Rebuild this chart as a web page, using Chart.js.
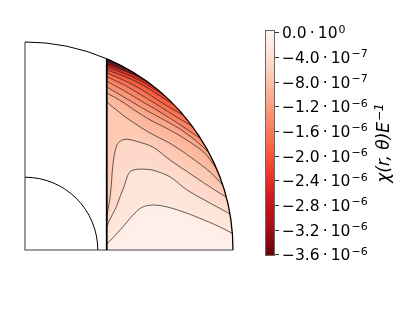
<!DOCTYPE html>
<html>
<head>
<meta charset="utf-8">
<script src="https://cdn.jsdelivr.net/npm/chart.js@4"></script>
<style>
  html, body { margin: 0; padding: 0; background: #fff; }
  #wrap { width: 415px; height: 311px; }
</style>
</head>
<body>
<div id="wrap"><canvas id="chiChart"></canvas></div>
<script>
// section geometry, in units of the outer radius
const innerRadius = 0.35;
const outerRadius = 1;
const slitX = 0.393;

// one level per traced contour line below
const contourLevels = [-2e-7, -4e-7, -6e-7, -8e-7, -1.0e-6, -1.2e-6, -1.4e-6, -1.6e-6, -1.8e-6,
  -2.0e-6, -2.2e-6, -2.4e-6, -2.6e-6, -2.8e-6, -3.0e-6, -3.2e-6, -3.4e-6, -3.6e-6];
const fieldMin = -3.7e-6;

// contour lines, [x, y]
const contour01 = [[0.393,0.030],[0.42,0.055],[0.445,0.083],[0.471,0.112],[0.503,0.150],[0.535,0.184],[0.56,0.204],[0.59,0.214],[0.63,0.216],[0.68,0.208],[0.75,0.187],[0.84,0.153],[0.935,0.112],[0.997,0.080]];
const contour02 = [[0.393,0.112],[0.399,0.128],[0.42,0.170],[0.439,0.208],[0.459,0.262],[0.479,0.313],[0.493,0.357],[0.508,0.379],[0.53,0.387],[0.56,0.389],[0.615,0.384],[0.697,0.352],[0.777,0.290],[0.889,0.226],[0.952,0.192],[0.985,0.173]];
const contour03 = [[0.393,0.139],[0.397,0.183],[0.407,0.240],[0.415,0.313],[0.420,0.385],[0.429,0.455],[0.443,0.507],[0.465,0.528],[0.49,0.533],[0.535,0.523],[0.615,0.495],[0.697,0.433],[0.803,0.361],[0.913,0.288],[0.967,0.255]];
const contour04 = [[0.393,0.715],[0.409,0.698],[0.441,0.673],[0.471,0.648],[0.503,0.626],[0.553,0.592],[0.615,0.555],[0.697,0.513],[0.793,0.449],[0.889,0.376],[0.950,0.313]];
const contour05 = [[0.393,0.755],[0.43,0.735],[0.48,0.705],[0.53,0.670],[0.601,0.626],[0.697,0.577],[0.793,0.519],[0.865,0.465],[0.919,0.394]];
const contour06 = [[0.393,0.785],[0.42,0.768],[0.48,0.733],[0.56,0.685],[0.649,0.636],[0.74,0.585],[0.82,0.527],[0.883,0.469]];
const contour07 = [[0.393,0.812],[0.42,0.797],[0.48,0.764],[0.56,0.716],[0.649,0.664],[0.73,0.613],[0.80,0.566],[0.843,0.537]];
const contour08 = [[0.393,0.834],[0.42,0.821],[0.48,0.792],[0.56,0.745],[0.649,0.690],[0.72,0.645],[0.804,0.595]];
const contour09 = [[0.393,0.852],[0.42,0.840],[0.48,0.814],[0.56,0.772],[0.649,0.714],[0.71,0.677],[0.760,0.649]];
const contour10 = [[0.393,0.867],[0.42,0.857],[0.48,0.834],[0.56,0.797],[0.649,0.741],[0.713,0.701]];
const contour11 = [[0.393,0.879],[0.43,0.866],[0.49,0.844],[0.56,0.812],[0.62,0.775],[0.669,0.743]];
const contour12 = [[0.393,0.888],[0.43,0.877],[0.49,0.857],[0.55,0.829],[0.623,0.782]];
const contour13 = [[0.393,0.896],[0.43,0.885],[0.48,0.865],[0.53,0.843],[0.581,0.814]];
const contour14 = [[0.393,0.902],[0.43,0.891],[0.48,0.870],[0.540,0.842]];
const contour15 = [[0.393,0.907],[0.42,0.899],[0.45,0.887],[0.478,0.874],[0.503,0.864]];
const contour16 = [[0.393,0.911],[0.415,0.905],[0.44,0.895],[0.469,0.883]];
const contour17 = [[0.393,0.914],[0.41,0.909],[0.425,0.903],[0.438,0.899]];
const contour18 = [[0.393,0.917],[0.402,0.914],[0.412,0.911]];

const contourLines = [contour01, contour02, contour03, contour04, contour05, contour06, contour07, contour08, contour09,
  contour10, contour11, contour12, contour13, contour14, contour15, contour16, contour17, contour18];

// colour bar
const cbMin = -3.62e-6;
const cbMax = 4.4e-8;
const cbTicks = [0, -4e-7, -8e-7, -1.2e-6, -1.6e-6, -2.0e-6, -2.4e-6, -2.8e-6, -3.2e-6, -3.6e-6];
const cbTickMantissas = ['0.0', '−4.0', '−8.0', '−1.2', '−1.6', '−2.0', '−2.4', '−2.8', '−3.2', '−3.6'];
const cbTickExponents = ['0', '−7', '−7', '−6', '−6', '−6', '−6', '−6', '−6', '−6'];
const cbTitle = ['χ(r, θ)E', '−1'];

// matplotlib "Reds"
const redsStops = ['#fff5f0', '#fee0d2', '#fcbba1', '#fc9272', '#fb6a4a', '#ef3b2c', '#cb181d', '#a50f15', '#67000d'];

function hexToRgb(h) {
  const n = parseInt(h.slice(1), 16);
  return [n >> 16, (n >> 8) & 255, n & 255];
}
function reds(t) {
  t = Math.min(1, Math.max(0, t)) * (redsStops.length - 1);
  const i = Math.min(Math.floor(t), redsStops.length - 2);
  const f = t - i;
  const a = hexToRgb(redsStops[i]), b = hexToRgb(redsStops[i + 1]);
  return 'rgb(' + a.map((c, k) => Math.round(c + (b[k] - c) * f)).join(',') + ')';
}
// low (negative) values are dark
function colorFor(v) {
  return reds(1 - (v - cbMin) / (cbMax - cbMin));
}

// text with a raised, smaller exponent
function drawPowerText(ctx, base, sup, x, y, size, style) {
  ctx.font = style + size + 'px "DejaVu Sans"';
  ctx.fillText(base, x, y);
  const w = ctx.measureText(base).width;
  ctx.font = style + Math.round(size * 0.7) + 'px "DejaVu Sans"';
  ctx.fillText(sup, x + w + 1, y - size * 0.36);
  return w + 1 + ctx.measureText(sup).width;
}

const sectionPlugin = {
  id: 'section',
  beforeDatasetsDraw(chart) {
    const { ctx, scales: { x, y } } = chart;
    const cx = x.getPixelForValue(0), cy = y.getPixelForValue(0);
    const R = x.getPixelForValue(outerRadius) - cx;
    const sx = x.getPixelForValue(slitX);
    const theta0 = Math.acos(slitX / outerRadius);
    const top = cy - R * 1.4;

    ctx.save();
    ctx.beginPath();
    ctx.moveTo(sx, cy);
    ctx.lineTo(cx + R, cy);
    ctx.arc(cx, cy, R, 0, -theta0, true);
    ctx.closePath();
    ctx.clip();
    ctx.filter = 'blur(2px)';

    ctx.fillStyle = colorFor(contourLevels[0] * 0.4);
    ctx.fillRect(sx - 20, top, R + 40, cy - top + 20);

    contourLevels.forEach((lev, i) => {
      const line = chart.getDatasetMeta(i).dataset;
      line.updateControlPoints(chart.chartArea, 'x');
      const pts = line.points;
      const first = pts[0], last = pts[pts.length - 1];
      const ex = cx + (last.x - cx) * 1.3, ey = cy + (last.y - cy) * 1.3;
      const next = i + 1 < contourLevels.length ? contourLevels[i + 1] : fieldMin;
      ctx.beginPath();
      line.path(ctx);
      ctx.lineTo(ex, ey);
      ctx.lineTo(ex, top);
      ctx.lineTo(sx - 20, top);
      ctx.lineTo(sx - 20, first.y);
      ctx.closePath();
      ctx.fillStyle = colorFor((lev + next) / 2);
      ctx.fill();
    });
    ctx.restore();
  },
  afterDatasetsDraw(chart) {
    const { ctx, scales: { x, y } } = chart;
    const cx = x.getPixelForValue(0), cy = y.getPixelForValue(0);
    const R = x.getPixelForValue(outerRadius) - cx;
    const r = x.getPixelForValue(innerRadius) - cx;
    const sx = x.getPixelForValue(slitX);
    const theta0 = Math.acos(slitX / outerRadius);

    ctx.save();
    // straight edges of the wedge
    ctx.strokeStyle = '#808080';
    ctx.lineWidth = 1.6;
    ctx.beginPath();
    ctx.moveTo(cx, cy - R);
    ctx.lineTo(cx, cy);
    ctx.lineTo(cx + R, cy);
    ctx.stroke();

    ctx.strokeStyle = '#000';
    ctx.lineWidth = 1;
    ctx.beginPath();
    ctx.arc(cx, cy, r, -Math.PI / 2, 0);
    ctx.stroke();
    ctx.beginPath();
    ctx.arc(cx, cy, R, -Math.PI / 2, -theta0);
    ctx.stroke();
    ctx.lineWidth = 1.3;
    ctx.beginPath();
    ctx.arc(cx, cy, R, -theta0, 0);
    ctx.stroke();

    ctx.lineWidth = 1.8;
    ctx.beginPath();
    ctx.moveTo(sx, cy);
    ctx.lineTo(sx, cy - R * Math.sin(theta0));
    ctx.stroke();
    ctx.restore();
  },
  afterDraw(chart) {
    const { ctx, chartArea, scales: { cb } } = chart;
    const yTop = cb.getPixelForValue(cbMax), yBot = cb.getPixelForValue(cbMin);
    const right = chartArea.right, left = right - 10;
    const grad = ctx.createLinearGradient(0, yBot, 0, yTop);
    redsStops.forEach((c, k) => grad.addColorStop(k / (redsStops.length - 1), redsStops[redsStops.length - 1 - k]));
    ctx.save();
    ctx.fillStyle = grad;
    ctx.fillRect(left, yTop, right - left, yBot - yTop);
    ctx.strokeStyle = '#666';
    ctx.lineWidth = 1;
    ctx.strokeRect(left + 0.5, yTop + 0.5, right - left - 1, yBot - yTop - 1);

    // tick labels, mantissa · 10^exp
    ctx.fillStyle = '#000';
    ctx.textAlign = 'left';
    ctx.textBaseline = 'alphabetic';
    const size = 15.5;
    cbTicks.forEach((v, i) => {
      const ty = cb.getPixelForValue(v);
      drawPowerText(ctx, cbTickMantissas[i] + '\u2009·\u200910', cbTickExponents[i], right + 7, ty + size * 0.36, size, '');
    });

    // rotated colour bar label
    ctx.translate(383, (yTop + yBot) / 2);
    ctx.rotate(-Math.PI / 2);
    const tsize = 17;
    ctx.font = 'italic ' + tsize + 'px "DejaVu Sans"';
    const wBase = ctx.measureText(cbTitle[0]).width;
    ctx.font = 'italic ' + Math.round(tsize * 0.7) + 'px "DejaVu Sans"';
    const wTotal = wBase + 1 + ctx.measureText(cbTitle[1]).width;
    drawPowerText(ctx, cbTitle[0], cbTitle[1], -wTotal / 2, tsize * 0.36, tsize, 'italic ');
    ctx.restore();
  }
};

new Chart(document.getElementById('chiChart'), {
  type: 'scatter',
  data: {
    datasets: contourLines.map((pts, i) => ({
      label: String(contourLevels[i]),
      data: pts.map(([px, py]) => ({ x: px, y: py })),
      showLine: true,
      tension: 0.3,
      pointRadius: 0,
      borderColor: 'rgba(35, 35, 35, 0.8)',
      borderWidth: 0.9,
      fill: false
    }))
  },
  options: {
    responsive: true,
    maintainAspectRatio: false,
    animation: false,
    events: [],
    layout: { padding: { left: 25, right: 0, top: 30, bottom: 55 } },
    plugins: { legend: { display: false }, tooltip: { enabled: false } },
    scales: {
      x: { type: 'linear', min: 0, max: 1.20192, display: false },
      y: { type: 'linear', min: -0.02885, max: 1.05769, display: false },
      cb: {
        type: 'linear',
        position: 'right',
        min: cbMin,
        max: cbMax,
        afterBuildTicks: (scale) => { scale.ticks = cbTicks.map(v => ({ value: v })); },
        afterFit: (scale) => { scale.width = 140; },
        border: { display: false },
        grid: { drawOnChartArea: false, drawTicks: true, tickLength: 4, color: '#000', lineWidth: 0.8 },
        ticks: { display: false, autoSkip: false }
      }
    }
  },
  plugins: [sectionPlugin]
});
</script>
</body>
</html>
